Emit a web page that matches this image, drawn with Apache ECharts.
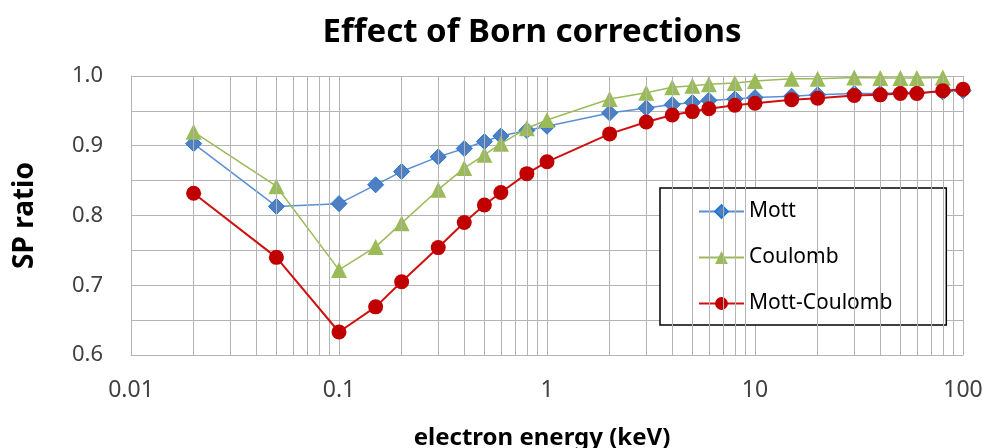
<!DOCTYPE html>
<html>
<head>
<meta charset="utf-8">
<script src="https://cdn.jsdelivr.net/npm/echarts@6/dist/echarts.min.js"></script>
<style>html,body{margin:0;padding:0;background:#fff;}#c{width:982px;height:448px;}</style>
</head>
<body>
<div id="c"></div>
<script>
const energy = [0.02, 0.05, 0.1, 0.15, 0.2, 0.3, 0.4, 0.5, 0.6, 0.8, 1, 2, 3, 4, 5, 6, 8, 10, 15, 20, 30, 40, 50, 60, 80, 100];
const mott = [0.903, 0.813, 0.817, 0.844, 0.863, 0.884, 0.896, 0.906, 0.914, 0.922, 0.928, 0.947, 0.954, 0.959, 0.962, 0.965, 0.967, 0.969, 0.971, 0.973, 0.975, 0.975, 0.976, 0.976, 0.977, 0.979];
const coulomb = [0.920, 0.842, 0.722, 0.755, 0.789, 0.837, 0.868, 0.887, 0.903, 0.925, 0.937, 0.967, 0.976, 0.984, 0.986, 0.988, 0.990, 0.993, 0.996, 0.996, 0.998, 0.997, 0.997, 0.997, 0.998, null];
const mottCoulomb = [0.832, 0.740, 0.633, 0.669, 0.705, 0.754, 0.790, 0.815, 0.833, 0.860, 0.877, 0.917, 0.934, 0.944, 0.949, 0.953, 0.958, 0.961, 0.966, 0.968, 0.972, 0.973, 0.975, 0.975, 0.979, 0.981];
const xTickLabels = ['0.01', '0.1', '1', '10', '100'];
const yTickLabels = ['0.6', '0.7', '0.8', '0.9', '1.0'];

const minorX = [];
[0.01, 0.1, 1, 10].forEach(d => { for (let k = 2; k <= 9; k++) minorX.push(+(d * k).toPrecision(3)); });

const pair = a => energy.map((x, i) => [x, a[i]]).filter(p => p[1] !== null);
const gridColor = '#b4b4b4';
const font = 'Noto Sans';

const chart = echarts.init(document.getElementById('c'));
chart.setOption({
  animation: false,
  backgroundColor: '#fff',
  title: {
    text: 'Effect of Born corrections',
    left: 527, top: 11, textAlign: 'center',
    textStyle: { fontFamily: font, fontSize: 33, fontWeight: 'bold', color: '#000' }
  },
  grid: { left: 131, right: 19, top: 76, bottom: 93, outerBoundsMode: 'none', containLabel: false },
  legend: {
    orient: 'vertical',
    left: 660, top: 188,
    padding: [13, 54, 11, 38],
    itemGap: 25,
    itemWidth: 45, itemHeight: 16,
    backgroundColor: '#fff',
    borderColor: '#000', borderWidth: 1.5,
    textStyle: { fontFamily: font, fontSize: 21, color: '#000' },
    data: ['Mott', 'Coulomb', 'Mott-Coulomb']
  },
  xAxis: {
    type: 'log', logBase: 10, min: 0.01, max: 100, interval: 1,
    name: 'electron energy (keV)', nameLocation: 'middle', nameGap: 71,
    nameTextStyle: { fontFamily: font, fontSize: 24, fontWeight: 'bold', color: '#000', padding: [0, 10, 0, 0] },
    axisLine: { lineStyle: { color: gridColor } },
    axisTick: { show: false },
    axisLabel: {
      margin: 24, fontFamily: font, fontSize: 23, color: '#404040',
      formatter: v => {
        const idx = Math.round(Math.log10(v)) + 2;
        return xTickLabels[idx] !== undefined ? xTickLabels[idx] : '';
      }
    },
    splitLine: { show: true, lineStyle: { color: gridColor } }
  },
  yAxis: {
    type: 'value', min: 0.6, max: 1.0, interval: 0.1,
    name: 'SP ratio', nameLocation: 'middle', nameGap: 92, nameRotate: 90,
    nameTextStyle: { fontFamily: font, fontSize: 28, fontWeight: 'bold', color: '#000' },
    axisLine: { show: true, lineStyle: { color: gridColor } },
    axisTick: { show: false },
    axisLabel: {
      margin: 28, fontFamily: font, fontSize: 22, color: '#404040',
      formatter: v => {
        const idx = Math.round((v - 0.6) * 10);
        return yTickLabels[idx] !== undefined ? yTickLabels[idx] : '';
      }
    },
    splitLine: { show: true, lineStyle: { color: gridColor } },
    minorTick: { show: false, splitNumber: 2 },
    minorSplitLine: { show: true, lineStyle: { color: gridColor } }
  },
  series: [
    {
      name: 'grid-minor', type: 'line', data: [], z: 1, silent: true,
      markLine: {
        silent: true, symbol: 'none', label: { show: false },
        lineStyle: { color: gridColor, type: 'solid', width: 1 },
        data: minorX.map(x => ({ xAxis: x }))
      }
    },
    {
      name: 'Mott', type: 'line', z: 3, data: pair(mott),
      symbol: 'diamond', symbolSize: 16,
      lineStyle: { color: '#5b8fd3', width: 1.5 },
      itemStyle: { color: '#4f7fc0', borderColor: '#1f77d9', borderWidth: 1 }
    },
    {
      name: 'Coulomb', type: 'line', z: 4, data: pair(coulomb),
      symbol: 'triangle', symbolSize: 16,
      lineStyle: { color: '#9bbb59', width: 1.5 },
      itemStyle: { color: '#9bbb59', borderColor: '#9bbb59', borderWidth: 0 }
    },
    {
      name: 'Mott-Coulomb', type: 'line', z: 5, data: pair(mottCoulomb),
      symbol: 'circle', symbolSize: 15,
      lineStyle: { color: '#d01010', width: 2 },
      itemStyle: { color: '#c00000', borderColor: '#c00000', borderWidth: 0 }
    }
  ]
});
</script>
</body>
</html>
